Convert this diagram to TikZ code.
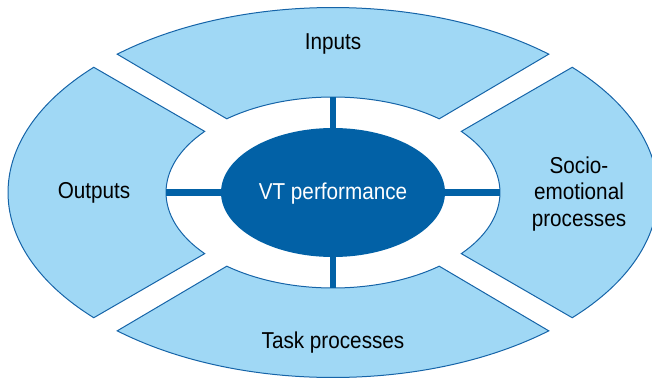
\documentclass[tikz,border=0pt]{standalone}
\usepackage{fontspec}
\setmainfont{Liberation Sans}[FakeStretch=0.9]
\usetikzlibrary{shapes.geometric}
\definecolor{segfill}{RGB}{160,216,245}
\definecolor{segline}{RGB}{22,100,168}
\definecolor{core}{RGB}{2,97,166}
\tikzset{
  seg/.style={fill=segfill, draw=segline, line width=1pt, line join=miter},
  lbl/.style={font=\fontsize{23}{26.5}\selectfont, text=black, inner sep=0pt, align=center},
  bar/.style={draw=core, line width=6.5pt},
  corenode/.style={ellipse, fill=core, inner sep=0pt, minimum width=224pt, minimum height=129pt},
}
\begin{document}
\begin{tikzpicture}
\useasboundingbox (-333pt,-185.5pt) rectangle (319pt,192.5pt);
\clip (-333pt,-185.5pt) rectangle (319pt,192.5pt);
% Inputs segment
\path[seg] (48.4:325pt and 185pt) arc[start angle=48.4, end angle=131.6, x radius=325pt, y radius=185pt]
  -- (129.5:167pt and 95.5pt) arc[start angle=129.5, end angle=50.5, x radius=167pt, y radius=95.5pt] -- cycle;
% Outputs segment
\path[seg] (137.4:325pt and 185pt) arc[start angle=137.4, end angle=222.6, x radius=325pt, y radius=185pt]
  -- (219.8:167pt and 95.5pt) arc[start angle=219.8, end angle=140.2, x radius=167pt, y radius=95.5pt] -- cycle;
% Socio-emotional segment
\path[seg] (-42.6:325pt and 185pt) arc[start angle=-42.6, end angle=42.6, x radius=325pt, y radius=185pt]
  -- (39.8:167pt and 95.5pt) arc[start angle=39.8, end angle=-39.8, x radius=167pt, y radius=95.5pt] -- cycle;
% Task segment
\path[seg] (228.4:325pt and 185pt) arc[start angle=228.4, end angle=311.6, x radius=325pt, y radius=185pt]
  -- (309.5:167pt and 95.5pt) arc[start angle=309.5, end angle=230.5, x radius=167pt, y radius=95.5pt] -- cycle;
% inner ring ends of the bars
\coordinate (ntop) at (0pt,95.5pt);
\coordinate (nbot) at (0pt,-95.5pt);
\coordinate (nleft) at (-167pt,0pt);
\coordinate (nright) at (167pt,0pt);
% core
\node[corenode] (vt) at (0pt,0pt) {};
\draw[bar] (vt.north) -- (ntop);
\draw[bar] (vt.south) -- (nbot);
\draw[bar] (vt.west) -- (nleft);
\draw[bar] (vt.east) -- (nright);
\node[lbl, text=white, anchor=base] (vtlabel) at (0pt,-7pt) {VT performance};
% labels
\node[lbl, anchor=base] (inputs) at (0pt,143.2pt) {Inputs};
\node[lbl, anchor=base] (outputs) at (-239pt,-6.3pt) {Outputs};
\node[lbl, anchor=base] (task) at (0pt,-155.8pt) {Task processes};
\node[lbl] (socio) at (246pt,-1.5pt) {Socio-\\emotional\\processes};
\end{tikzpicture}
\end{document}
